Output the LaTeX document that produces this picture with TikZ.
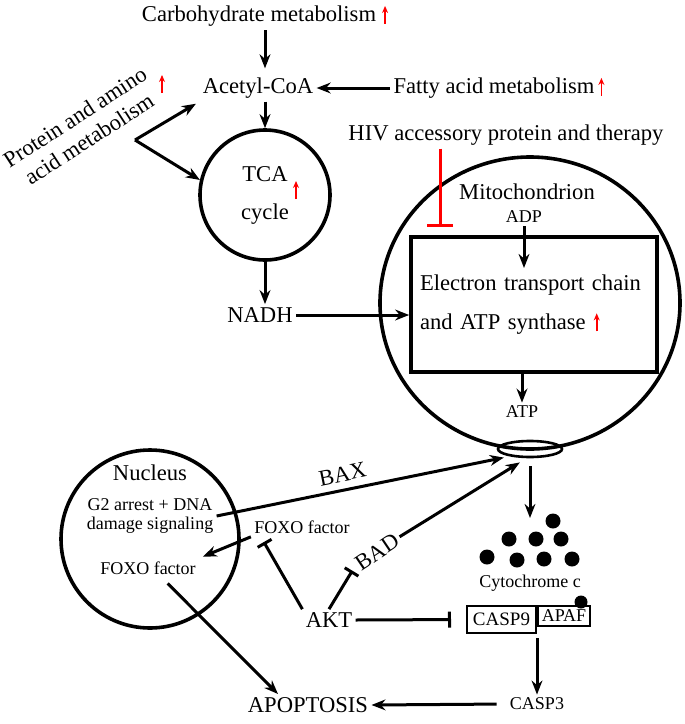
\documentclass[tikz,border=0pt]{standalone}
\usepackage{fontspec}
\setmainfont{Liberation Serif}
\usetikzlibrary{arrows.meta,shapes.geometric}
% small red "increase" arrow
\newcommand{\upr}{\tikz[baseline=0pt]\draw[red,line width=0.8pt,-{Stealth[length=3.5pt,width=3pt]}](0pt,-1pt)--(0pt,8pt);}

\begin{document}
\begin{tikzpicture}[x=0.5pt,y=-0.5pt,
  >={Stealth[length=7pt,width=5.4pt]},
  every node/.style={inner sep=1.5pt},
  main/.style={font=\fontsize{11.3}{13}\selectfont},
  sm/.style={font=\fontsize{9}{9.6}\selectfont},
  arr/.style={->,line width=1.5pt},
  inh/.style={-{Bar[width=8pt]},line width=1.5pt},
  rim/.style={draw,line width=1.8pt},
  dot/.style={circle,fill,inner sep=0pt,minimum size=7.5pt}]
  \useasboundingbox (0,0) rectangle (685,724);
  % inputs to acetyl-CoA
  \node[main] (carb) at (265,16) {Carbohydrate metabolism\hspace{3pt}\upr};
  \node[main] (acoa) at (258,88) {Acetyl-CoA};
  \node[main] (fatty) at (499,88) {Fatty acid metabolism\hspace{2pt}\upr};
  \node[main,rotate=33,align=center] (prot) at (82,128) {Protein and amino\\acid metabolism};
  \node (protup) at (162,84) {\upr};
  \coordinate (fork) at (135,140);
  % TCA cycle
  \node[rim,circle,minimum size=65pt,inner sep=0pt,main,align=center] (tca) at (265,195) {TCA\\[6pt]cycle};
  \node (tcaup) at (296,190) {\upr};
  \node[main] (nadh) at (260,315) {NADH};
  % mitochondrion
  \node[rim,ellipse,minimum width=150pt,minimum height=146pt,inner sep=0pt] (mito) at (530,303) {};
  \node[main] (mitotxt) at (527,192) {Mitochondrion};
  \node[sm] (adp) at (524,217) {ADP};
  \coordinate (adptip) at (524,268);
  \node[rim,rectangle,minimum width=123pt,minimum height=67.5pt,text width=114pt,align=left,inner xsep=4.5pt,main] (etc) at (534,304.5)
    {Electron transport chain\\[6.5pt]and ATP synthase\hspace{4pt}\upr};
  \node[sm] (atp) at (522,412) {ATP};
  \node[draw,ellipse,line width=1.3pt,minimum width=32pt,minimum height=8pt,inner sep=0pt] (pore) at (530,449) {};
  \node[main] (hiv) at (506,135) {HIV accessory protein and therapy};
  \coordinate (hivbar) at (440,227);
  % nucleus
  \node[rim,circle,minimum size=89pt,inner sep=0pt] (nuc) at (150,539) {};
  \node[main] (nuctxt) at (150,473) {Nucleus};
  \node[sm,align=center] (g2) at (150,516) {G2 arrest + DNA\\damage signaling};
  \node[sm] (foxoin) at (148,568) {FOXO factor};
  \node[sm] (foxout) at (302,527) {FOXO factor};
  \node[main] (akt) at (329,620) {AKT};
  \node[main,rotate=34] (bad) at (377,552) {BAD};
  \node[main] (apop) at (308,705) {APOPTOSIS};
  % cytochrome c and caspases
  \foreach \n/\px/\py in {1/553/521,2/509/539,3/536/539,4/561/539,5/487/557,6/517/560,7/544/559,8/572/559}
    \node[dot] (cy\n) at (\px,\py) {};
  \node[sm] (cyto) at (530,583) {Cytochrome c};
  \node[draw,line width=1pt,minimum width=34.5pt,minimum height=13.5pt,inner sep=0pt,font=\fontsize{9.5}{10}\selectfont] (casp9) at (501.5,619.5) {CASP9};
  \node[draw,line width=1pt,minimum width=26pt,minimum height=10pt,inner sep=0pt,sm,anchor=north west] (apaf) at (casp9.north east) {APAF};
  \node[dot,minimum size=6.5pt] (apafdot) at (581,602) {};
  \node[sm] (casp3) at (537,704) {CASP3};

  % connectors
  \draw[arr,shorten >=3pt] (carb.south) -- (carb.south |- acoa.north);
  \draw[arr] (fatty.west) -- (acoa.east);
  \draw[arr] (acoa.south -| tca.north) -- (tca.north);
  \draw[arr,shorten >=2pt] (fork) -- (acoa.south west);
  \draw[arr] (fork) -- (tca.167);
  \draw[arr] (tca.south) -- (tca.south |- nadh.north);
  \draw[arr] (nadh.east) -- (nadh.east -| etc.west);
  \draw[arr] (adp.south) -- (adptip);
  \draw[arr] (etc.south -| atp) -- (atp.north);
  \draw[red,line width=1.5pt,-{Bar[width=13pt]}] (hiv.south -| hivbar) -- (hivbar);
  \draw[arr,shorten <=4pt,shorten >=1.5pt] (pore.south) -- (pore.south |- cy1);
  \draw[arr,shorten >=3pt] (g2.east) -- node[main,sloped,above=2pt,pos=0.44] (bax) {BAX} (pore.200);
  \draw[arr,shorten >=4pt] (bad.east) -- (pore.250);
  \draw[inh,shorten >=2pt] (akt.north) -- (bad.west);
  \draw[inh,shorten >=3pt] (akt.north west) -- ([xshift=5pt]foxout.south west);
  \draw[arr,shorten >=2pt] (foxout.south west) -- (foxoin.north east);
  \draw[arr,shorten <=4pt] ([xshift=7pt]foxoin.south) -- ([xshift=-15pt]apop.north);
  \draw[inh,shorten >=7.5pt] (akt.east) -- (casp9.west);
  \draw[arr,shorten <=2pt] (casp9.south east) -- (casp9.south east |- casp3.north);
  \draw[arr,shorten <=5pt] (casp3.west) -- (apop.east);
\end{tikzpicture}
\end{document}
